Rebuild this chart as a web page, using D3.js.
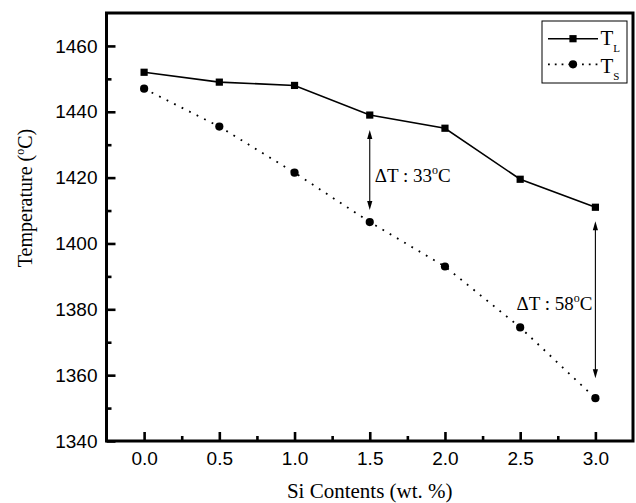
<!DOCTYPE html>
<html><head><meta charset="utf-8">
<script src="https://cdn.jsdelivr.net/npm/d3@7"></script>
<style>body{margin:0;background:#fff}svg{display:block}</style>
</head><body>
<svg id="c" width="636" height="503"></svg>
<script>
const siContent = [0.0, 0.5, 1.0, 1.5, 2.0, 2.5, 3.0];
const tLiquidus = [1452, 1449, 1448, 1439, 1435, 1419.5, 1411];
const tSolidus  = [1447, 1435.5, 1421.5, 1406.5, 1393, 1374.5, 1353];
const xTickVals = [0.0, 0.5, 1.0, 1.5, 2.0, 2.5, 3.0];
const xMinorVals = [0.25, 0.75, 1.25, 1.75, 2.25, 2.75];
const yTickVals = [1340, 1360, 1380, 1400, 1420, 1440, 1460];
const yMinorVals = [1350, 1370, 1390, 1410, 1430, 1450];
const deltaLabels = ["33", "58"];
const deltaX = [1.5, 3.0];
const seriesNames = ["L", "S"];

const svg = d3.select("#c");
const L = 106.5, R = 633, T = 13, B = 441;
const x = d3.scaleLinear().domain([-0.25, 3.25]).range([L, R]);
const y = d3.scaleLinear().domain([1340, 1470]).range([B, T]);
const sans = "'Liberation Sans', Arial, sans-serif";
const serif = "'Liberation Serif', 'Times New Roman', serif";

// axes
const xAxis = svg.append("g").attr("transform", `translate(0,${B})`)
  .call(d3.axisBottom(x).tickValues(xTickVals).tickFormat(d3.format(".1f")).tickSizeInner(-9).tickSizeOuter(0).tickPadding(11));
const xMinor = svg.append("g").attr("transform", `translate(0,${B})`)
  .call(d3.axisBottom(x).tickValues(xMinorVals).tickFormat("").tickSizeInner(-5).tickSizeOuter(0));
const yAxis = svg.append("g").attr("transform", `translate(${L},0)`)
  .call(d3.axisLeft(y).tickValues(yTickVals).tickFormat(d3.format("d")).tickSizeInner(-9).tickSizeOuter(0).tickPadding(9));
const yMinor = svg.append("g").attr("transform", `translate(${L},0)`)
  .call(d3.axisLeft(y).tickValues(yMinorVals).tickFormat("").tickSizeInner(-5).tickSizeOuter(0));
[xAxis, xMinor, yAxis, yMinor].forEach(g => {
  g.select(".domain").remove();
  g.selectAll(".tick line").attr("stroke", "#000").attr("stroke-width", 2.6);
  g.selectAll("text").attr("font-family", sans).attr("font-size", 19).attr("fill", "#000");
});

// frame
svg.append("rect").attr("x", L).attr("y", T).attr("width", R - L).attr("height", B - T)
  .attr("fill", "none").attr("stroke", "#000").attr("stroke-width", 3);

const ptsL = siContent.map((s, i) => [x(s), y(tLiquidus[i])]);
const ptsS = siContent.map((s, i) => [x(s), y(tSolidus[i])]);
const line = d3.line();

svg.append("path").attr("d", line(ptsL)).attr("fill", "none").attr("stroke", "#000").attr("stroke-width", 1.6);
svg.append("path").attr("d", line(ptsS)).attr("fill", "none").attr("stroke", "#000").attr("stroke-width", 1.8)
  .attr("stroke-dasharray", "1.8,6.6");

svg.selectAll(".sq").data(ptsL).enter().append("rect")
  .attr("x", d => d[0] - 3.6).attr("y", d => d[1] - 3.6).attr("width", 7.2).attr("height", 7.2).attr("fill", "#000");
svg.selectAll(".ci").data(ptsS).enter().append("circle")
  .attr("cx", d => d[0]).attr("cy", d => d[1]).attr("r", 4.1).attr("fill", "#000");

// delta annotations
const gapTop = [15, 14], gapBot = [12, 20];
function arrowHead(xp, yp, dir) {
  const len = 9, hw = 2.6;
  return `M${xp},${yp} L${xp - hw},${yp - dir * len} L${xp + hw},${yp - dir * len} Z`;
}
deltaX.forEach((dx, k) => {
  const i = siContent.indexOf(dx);
  const xp = x(dx);
  const y1 = y(tLiquidus[i]) + gapTop[k];
  const y2 = y(tSolidus[i]) - gapBot[k];
  svg.append("line").attr("x1", xp).attr("x2", xp).attr("y1", y1 + 4).attr("y2", y2 - 4)
    .attr("stroke", "#000").attr("stroke-width", 1.1);
  svg.append("path").attr("d", arrowHead(xp, y1, -1)).attr("fill", "#000");
  svg.append("path").attr("d", arrowHead(xp, y2, 1)).attr("fill", "#000");
});
function deltaText(xp, yp, anchor, val) {
  const t = svg.append("text").attr("x", xp).attr("y", yp).attr("text-anchor", anchor)
    .attr("font-family", serif).attr("font-size", 19).attr("fill", "#000");
  t.append("tspan").text("\u0394T : " + val);
  t.append("tspan").text("o").attr("font-size", 12).attr("dy", -8);
  t.append("tspan").text("C").attr("dy", 8);
}
deltaText(x(1.5) + 5, 181.5, "start", deltaLabels[0]);
deltaText(x(3.0) - 3, 309.5, "end", deltaLabels[1]);

// legend
const lg = svg.append("g");
lg.append("rect").attr("x", 542).attr("y", 21).attr("width", 85).attr("height", 62)
  .attr("fill", "#fff").attr("stroke", "#000").attr("stroke-width", 1);
lg.append("line").attr("x1", 548).attr("x2", 598).attr("y1", 38.7).attr("y2", 38.7).attr("stroke", "#000").attr("stroke-width", 1.6);
lg.append("rect").attr("x", 573 - 3.6).attr("y", 38.7 - 3.6).attr("width", 7.2).attr("height", 7.2).attr("fill", "#000");
lg.append("line").attr("x1", 548).attr("x2", 598).attr("y1", 64.3).attr("y2", 64.3).attr("stroke", "#000").attr("stroke-width", 1.8)
  .attr("stroke-dasharray", "1.8,5");
lg.append("circle").attr("cx", 573).attr("cy", 64.3).attr("r", 4.1).attr("fill", "#000");
[45.3, 72.5].forEach((by, k) => {
  const t = lg.append("text").attr("x", 600.5).attr("y", by).attr("font-family", serif).attr("font-size", 21).attr("fill", "#000");
  t.append("tspan").text("T");
  t.append("tspan").text(seriesNames[k]).attr("font-size", 11).attr("dy", 7);
});

// axis titles
svg.append("text").attr("x", (L + R) / 2).attr("y", 498).attr("text-anchor", "middle")
  .attr("font-family", serif).attr("font-size", 21).attr("fill", "#000").text("Si Contents (wt. %)");
const yt = svg.append("text").attr("transform", "translate(32,198) rotate(-90)").attr("text-anchor", "middle")
  .attr("font-family", serif).attr("font-size", 20).attr("fill", "#000");
yt.append("tspan").text("Temperature (");
yt.append("tspan").text("o").attr("font-size", 12).attr("dy", -8);
yt.append("tspan").text("C)").attr("dy", 8);
</script>
</body></html>
